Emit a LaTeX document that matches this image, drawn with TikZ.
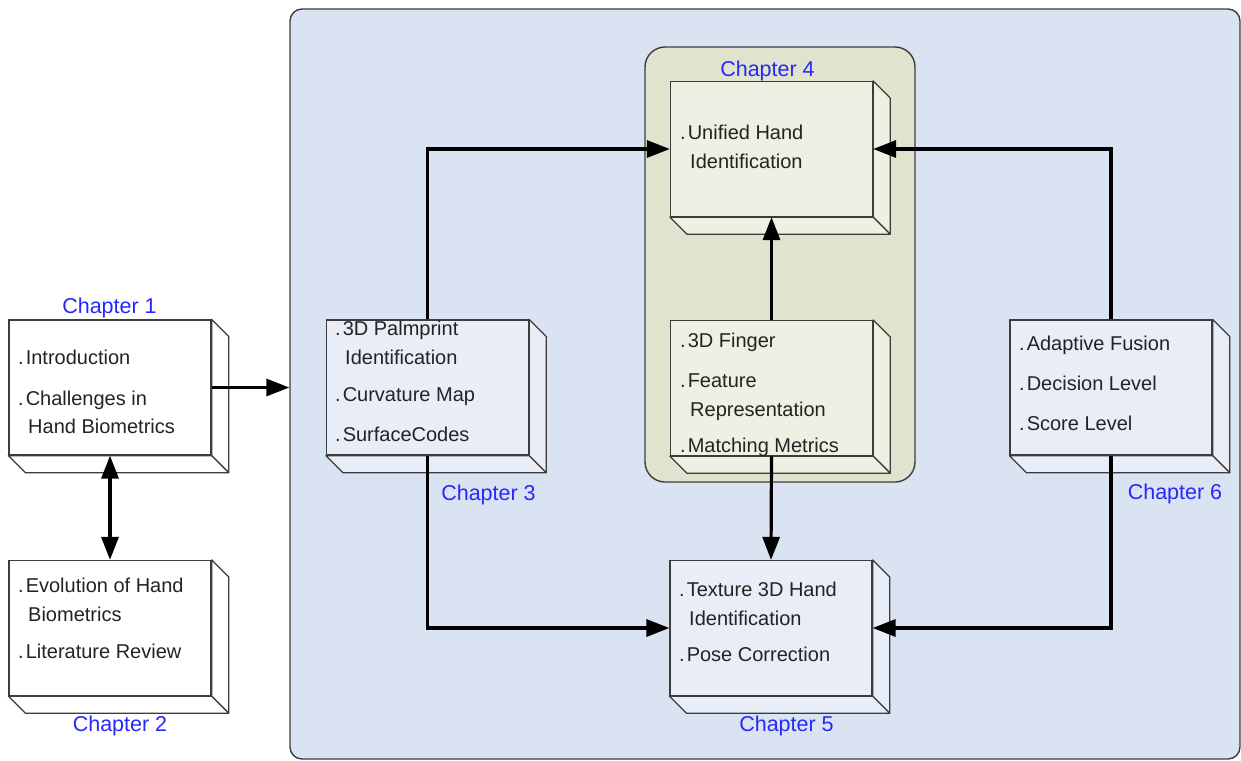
\documentclass[tikz,border=0pt]{standalone}
\usepackage{fontspec}
\setmainfont{Liberation Sans}
\usetikzlibrary{arrows.meta}
\definecolor{panelblue}{RGB}{218,227,242}
\definecolor{panelolive}{RGB}{224,228,206}
\definecolor{faceolive}{RGB}{237,240,226}
\definecolor{faceblue}{RGB}{233,237,248}
\definecolor{edgegray}{RGB}{60,60,60}
\definecolor{chapblue}{RGB}{40,40,250}
\definecolor{textgray}{RGB}{35,35,35}
\tikzset{
  panel/.style={draw=edgegray, line width=1.4pt, rounded corners=#1, inner sep=0pt},
  frontface/.style={draw=edgegray, line width=1.3pt, minimum width=202pt, minimum height=135pt, inner sep=0pt},
  sideface/.style={draw=edgegray, line width=1.3pt, line join=round},
  item/.style={anchor=base west, inner sep=0pt, text=textgray, font=\fontsize{20}{24}\selectfont},
  chap/.style={anchor=base, inner sep=0pt, text=chapblue, font=\fontsize{21.5}{26}\selectfont},
  link/.style={line width=3.2pt, -{Triangle[length=23pt,width=17pt]}},
  biglink/.style={line width=3.2pt, {Triangle[length=23pt,width=17pt]}-{Triangle[length=23pt,width=17pt]}},
}
% a front face with its extruded right and bottom faces
\newcommand{\cubebox}[4]{%
  \node[frontface, fill=#4] (#1) at (#2,#3) {};
  \draw[sideface, fill=#4] (#1.north east) -- ++(17,17) -- ([shift={(17,17)}]#1.south east) -- (#1.south east) -- cycle;
  \draw[sideface, fill=#4] (#1.south west) -- ++(17,17) -- ([shift={(17,17)}]#1.south east) -- (#1.south east) -- cycle;
}
% bullet dot and indent used in the box texts
\newcommand{\dotmark}{.\kern2pt}
\newcommand{\contind}{\hspace*{10pt}}
\begin{document}
\begin{tikzpicture}[x=1pt, y=-1pt]
\useasboundingbox (0,0) rectangle (1241,760);
\fill[white] (0,0) rectangle (1241,760);

% background panels
\node[panel=12pt, fill=panelblue, minimum width=950pt, minimum height=750pt] (outer) at (765,384) {};
\node[panel=20pt, fill=panelolive, minimum width=270pt, minimum height=435pt] (group4) at (780,264.5) {};

% chapter boxes
\cubebox{ch1}{110}{387.5}{white}
\cubebox{ch2}{110}{628}{white}
\cubebox{ch3}{427.5}{387.5}{faceblue}
\cubebox{ch4a}{771.5}{149}{faceolive}
\cubebox{ch4b}{771.5}{388}{faceolive}
\cubebox{ch5}{771}{628}{faceblue}
\cubebox{ch6}{1111}{387.5}{faceblue}

% box contents
\node[item] (t1a) at (18,364) {\dotmark Introduction};
\node[item] (t1b) at (18,405) {\dotmark Challenges in};
\node[item] (t1c) at (18,433) {\contind Hand Biometrics};

\node[item] (t2a) at (18,592) {\dotmark Evolution of Hand};
\node[item] (t2b) at (18,621) {\contind Biometrics};
\node[item] (t2c) at (18,658) {\dotmark Literature Review};

\node[item] (t3a) at (335,335) {\dotmark 3D Palmprint};
\node[item] (t3b) at (335,364) {\contind Identification};
\node[item] (t3c) at (335,401) {\dotmark Curvature Map};
\node[item] (t3d) at (335,441) {\dotmark SurfaceCodes};

\node[item] (t4a) at (680,139) {\dotmark Unified Hand};
\node[item] (t4b) at (680,168) {\contind Identification};

\node[item] (t4c) at (680,347) {\dotmark 3D Finger};
\node[item] (t4d) at (680,387) {\dotmark Feature};
\node[item] (t4e) at (680,416) {\contind Representation};
\node[item] (t4f) at (680,452) {\dotmark Matching Metrics};

\node[item] (t5a) at (679,596) {\dotmark Texture 3D Hand};
\node[item] (t5b) at (679,625) {\contind Identification};
\node[item] (t5c) at (679,661) {\dotmark Pose Correction};

\node[item] (t6a) at (1019,350) {\dotmark Adaptive Fusion};
\node[item] (t6b) at (1019,390) {\dotmark Decision Level};
\node[item] (t6c) at (1019,430) {\dotmark Score Level};

% chapter captions
\node[chap] (l1) at (109.5,313) {Chapter 1};
\node[chap] (l2) at (120,731) {Chapter 2};
\node[chap] (l3) at (488.5,500) {Chapter 3};
\node[chap] (l4) at (767.5,76) {Chapter 4};
\node[chap] (l5) at (786.5,731) {Chapter 5};
\node[chap] (l6) at (1175,499.5) {Chapter 6};

% connectors
\draw[link] (ch1.east) -- (outer.west |- ch1.east);
\draw[biglink] (ch1.south) -- (ch2.north);
\draw[link] (ch3.north) |- (ch4a.west);
\draw[link] (ch3.south) |- (ch5.west);
\draw[link] (ch4b.north) -- (ch4a.south);
\draw[link] (ch4b.south) -- (ch5.north);
\draw[link] (ch6.north) |- (ch4a.east);
\draw[link] (ch6.south) |- (ch5.east);
\end{tikzpicture}
\end{document}
